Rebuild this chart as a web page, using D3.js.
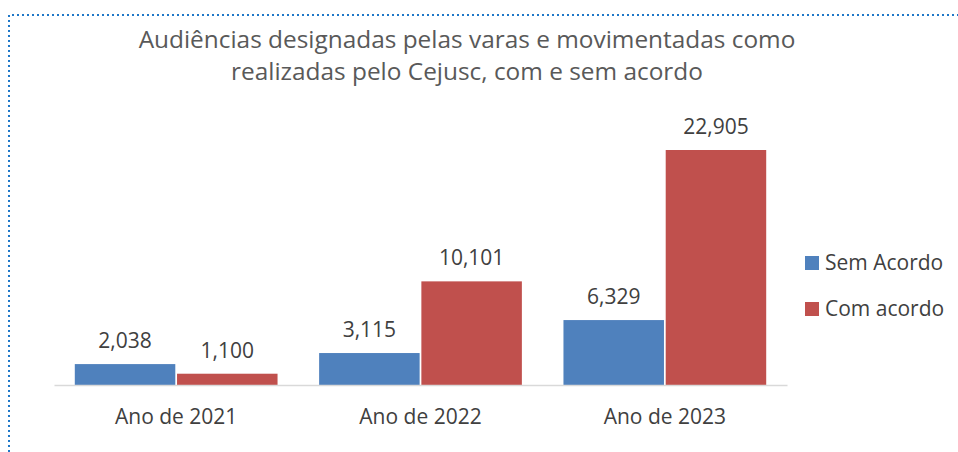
<!DOCTYPE html>
<html>
<head>
<meta charset="utf-8">
<script src="https://cdn.jsdelivr.net/npm/d3@7"></script>
<style>
  body { margin: 0; background: #fff; }
  text { font-family: "Open Sans", sans-serif; }
</style>
</head>
<body>
<div id="chart"></div>
<script>
// Data
const categories = ["Ano de 2021", "Ano de 2022", "Ano de 2023"];
const seriesNames = ["Sem Acordo", "Com acordo"];
const semAcordo = [2038, 3115, 6329];
const comAcordo = [1100, 10101, 22905];
const titleLines = ["Audiências designadas pelas varas e movimentadas como",
                    "realizadas pelo Cejusc, com e sem acordo"];

const W = 958, H = 452;
const margin = { top: 150, right: 171, bottom: 67, left: 54 },
      width  = W - margin.left - margin.right,
      height = H - margin.top - margin.bottom;

const svg = d3.select("#chart")
  .append("svg")
  .attr("width", W)
  .attr("height", H);

// dotted frame (only top and left are visible)
svg.append("path")
  .attr("d", `M9,452 V15 H958`)
  .attr("fill", "none")
  .attr("stroke", "#1F78C8")
  .attr("stroke-width", 2)
  .attr("stroke-dasharray", "2,3");

// Title
svg.append("text")
  .attr("x", 467)
  .attr("y", 48)
  .attr("text-anchor", "middle")
  .style("font-size", "24.4px")
  .style("fill", "#595959")
  .selectAll("tspan")
  .data(titleLines)
  .enter()
  .append("tspan")
  .attr("x", 467)
  .attr("dy", (d, i) => i === 0 ? 0 : 32)
  .text(d => d);

const g = svg.append("g")
  .attr("transform", `translate(${margin.left}, ${margin.top})`);

const data = categories.map((c, i) => ({ cat: c, values: [semAcordo[i], comAcordo[i]] }));

const x0 = d3.scaleBand()
  .domain(categories)
  .range([0, width])
  .paddingInner(0.156)
  .paddingOuter(0.078);

const x1 = d3.scaleBand()
  .domain(seriesNames)
  .range([0, x0.bandwidth()])
  .padding(0.017);

const y = d3.scaleLinear()
  .domain([0, 22905])
  .range([height, 0]);

const color = d3.scaleOrdinal()
  .domain(seriesNames)
  .range(["#4F81BD", "#C0504D"]);

// bars
const groups = g.selectAll(".barGroup")
  .data(data)
  .enter()
  .append("g")
  .attr("class", "barGroup")
  .attr("transform", d => `translate(${x0(d.cat)}, 0)`);

groups.selectAll("rect")
  .data(d => d.values.map((v, i) => ({ name: seriesNames[i], value: v })))
  .enter()
  .append("rect")
  .attr("x", d => x1(d.name))
  .attr("y", d => y(d.value))
  .attr("width", x1.bandwidth())
  .attr("height", d => height - y(d.value))
  .attr("fill", d => color(d.name));

groups.selectAll(".val")
  .data(d => d.values.map((v, i) => ({ name: seriesNames[i], value: v })))
  .enter()
  .append("text")
  .attr("class", "val")
  .attr("x", d => x1(d.name) + x1.bandwidth() / 2)
  .attr("y", d => y(d.value) - 16)
  .attr("text-anchor", "middle")
  .style("font-size", "21px")
  .style("fill", "#404040")
  .text(d => d3.format(",")(d.value));

// x axis
const xAxis = g.append("g")
  .attr("transform", `translate(0, ${height})`)
  .call(d3.axisBottom(x0).tickSize(0).tickPadding(24));

xAxis.select(".domain")
  .attr("stroke", "#D9D9D9")
  .attr("stroke-width", 1.5);

xAxis.selectAll("text")
  .style("font-family", "'Open Sans', sans-serif")
  .style("font-size", "21px")
  .style("fill", "#404040")
  .attr("dy", "0.71em");

// legend
const legend = svg.append("g")
  .attr("transform", "translate(805, 256)");

seriesNames.forEach((name, i) => {
  legend.append("rect")
    .attr("x", 0)
    .attr("y", i * 46)
    .attr("width", 14)
    .attr("height", 14)
    .attr("fill", color(name));

  legend.append("text")
    .attr("x", 20)
    .attr("y", i * 46 + 7)
    .attr("dy", "0.35em")
    .style("font-size", "21px")
    .style("fill", "#404040")
    .text(name);
});
</script>
</body>
</html>
